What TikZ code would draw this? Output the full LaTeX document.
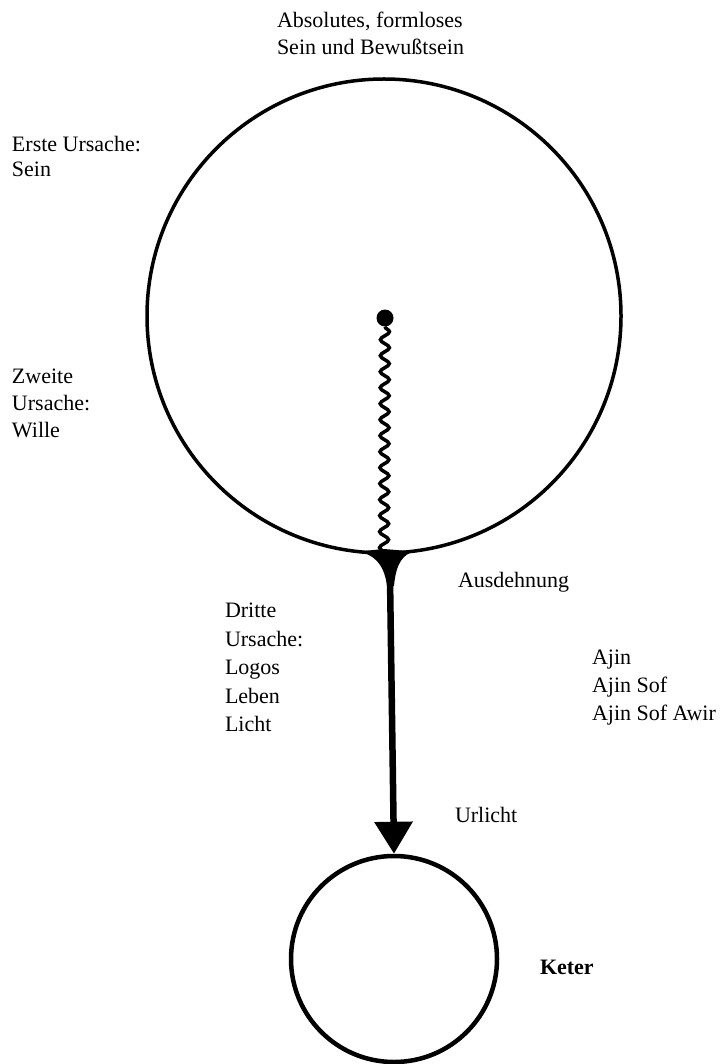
\documentclass[tikz,border=0pt]{standalone}
\usepackage{fontspec}
\setmainfont{Liberation Serif}
\usetikzlibrary{decorations.pathmorphing,arrows.meta}
\begin{document}
\begin{tikzpicture}[x=1pt,y=-1pt,
  lbl/.style={inner sep=0pt,outer sep=0pt,align=left,anchor=north west,font=\fontsize{22}{27}\selectfont},
  ring/.style={circle,draw,line width=3.5pt,inner sep=0pt},
  wave/.style={line width=3.5pt,decorate,decoration={snake,amplitude=4.5pt,segment length=16pt}},
  beam/.style={line width=6.5pt,-{Triangle[width=37pt,length=32pt]}}]
\useasboundingbox (0,0) rectangle (726,1064);
\node[ring,minimum size=474pt] (big) at (384,316) {};
\node[ring,minimum size=206pt,line width=4.5pt] (keter) at (394,959) {};
\node[circle,fill,inner sep=0pt,minimum size=17pt] (dot) at (385,318) {};
\coordinate (junc) at (390,578);
\draw[wave] (dot) -- (big.south);
\fill (358,551.5) .. controls (372,554) and (384,562) .. (387,586) -- (394,586) .. controls (396,562) and (404,554) .. (414,551.5) -- (384,549) -- cycle;
\draw[beam] (junc) -- (keter.north);
\node[lbl] (abs) at (277,12) {Absolutes, formloses\\Sein und Bewußtsein};
\node[lbl,font=\fontsize{22}{25}\selectfont] (erste) at (12,136) {Erste Ursache:\\Sein};
\node[lbl] (zweite) at (12,369) {Zweite\\Ursache:\\Wille};
\node[lbl] (ausd) at (458,572) {Ausdehnung};
\node[lbl,font=\fontsize{22}{28.5}\selectfont] (dritte) at (225,603) {Dritte\\Ursache:\\Logos\\Leben\\Licht};
\node[lbl,font=\fontsize{22}{28}\selectfont] (ajin) at (592,650) {Ajin\\Ajin Sof\\Ajin Sof Awir};
\node[lbl] (urlicht) at (455,807) {Urlicht};
\node[lbl,font=\fontsize{22}{27}\selectfont\bfseries] (keterlbl) at (540,960) {Keter};
\end{tikzpicture}
\end{document}
